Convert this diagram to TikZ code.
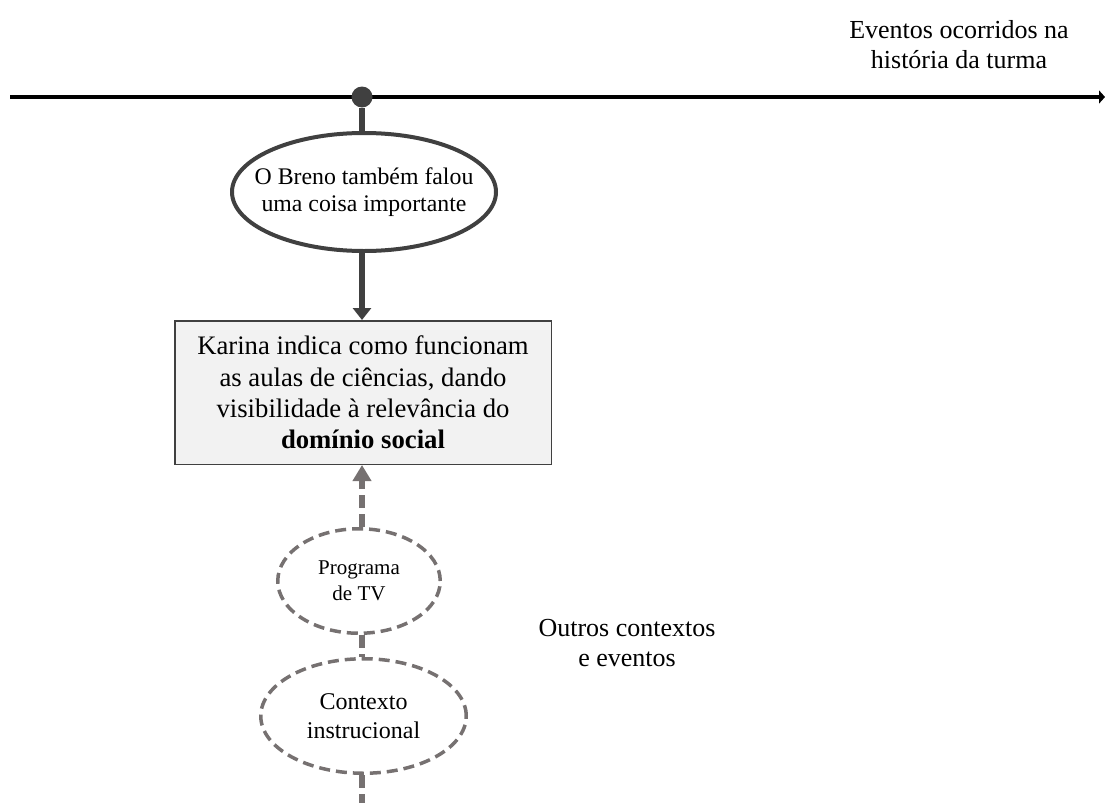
\documentclass[tikz,border=0pt]{standalone}
\usepackage{fontspec}
\setmainfont{Liberation Serif}
\usetikzlibrary{arrows.meta,positioning,shapes.geometric}
\definecolor{cDark}{HTML}{404040}
\definecolor{cGray}{HTML}{767171}
\definecolor{cFill}{HTML}{F2F2F2}
\tikzset{
  evento/.style={ellipse,draw=cDark,line width=4pt,inner sep=0pt},
  outroctx/.style={ellipse,draw=cGray,line width=3.5pt,dash pattern=on 11pt off 6pt,inner sep=0pt},
  quadro/.style={rectangle,draw=cDark,line width=1.5pt,fill=cFill,inner sep=0pt,align=center},
  liga/.style={draw=cDark,line width=5.5pt},
  ligatrac/.style={draw=cGray,line width=5.5pt,dash pattern=on 13pt off 6pt}
}
\newcommand{\fsz}[2]{\fontsize{#1}{#2}\selectfont}
\begin{document}
\begin{tikzpicture}[x=1pt,y=1pt]
  \useasboundingbox (0,0) rectangle (1105,-803);
  % linha do tempo
  \coordinate (t0) at (10,-97);
  \coordinate (t1) at (1105,-97);
  \draw[line width=3.5pt,-{Triangle[width=13pt,length=6pt]}] (t0) -- (t1);
  \node[align=center,font=\fsz{26}{30}] (hist) at (959,-45)
    {Eventos ocorridos na\\hist\'oria da turma};
  \node[circle,fill=cDark,minimum size=21pt,inner sep=0pt] (marca) at (362,-97) {};
  % evento e episodio
  \node[evento,minimum width=264pt,minimum height=118pt] (breno) at (364,-192) {};
  \node[align=center,font=\fsz{23.8}{27}] (brenotxt) at (breno.center)
    {O Breno tamb\'em falou\\uma coisa importante};
  \node[quadro,minimum width=376.5pt,minimum height=143.5pt,font=\fsz{26.7}{31.3}] (karina) at (363,-392.5)
    {Karina indica como funcionam\\as aulas de ci\^encias, dando\\visibilidade \`a relev\^ancia do\\\textbf{dom\'inio social}};
  \draw[liga,line width=6pt] (marca) -- (breno.north -| marca);
  \draw[liga,-{Triangle[width=18pt,length=12pt]}] (breno.south -| marca) -- (karina.north -| marca);
  % outros contextos
  \node[outroctx,minimum width=162.5pt,minimum height=104.5pt] (tv) at (359,-581) {};
  \node[align=center,font=\fsz{21}{26}] (tvtxt) at (tv.center) {Programa\\de TV};
  \node[outroctx,minimum width=205.5pt,minimum height=114.5pt] (instr) at (363.5,-716) {};
  \node[align=center,font=\fsz{24}{29}] (instrtxt) at (instr.center) {Contexto\\instrucional};
  \coordinate (fim) at (362,-803);
  \draw[ligatrac,-{Triangle[width=18pt,length=16pt]}] (tv.north -| fim) -- (karina.south -| fim);
  \draw[ligatrac] (tv.south -| fim) -- (instr.north -| fim);
  \draw[ligatrac] (instr.south -| fim) -- (fim);
  \node[align=center,font=\fsz{26}{30}] (outros) at (627,-643)
    {Outros contextos\\e eventos};
\end{tikzpicture}
\end{document}
